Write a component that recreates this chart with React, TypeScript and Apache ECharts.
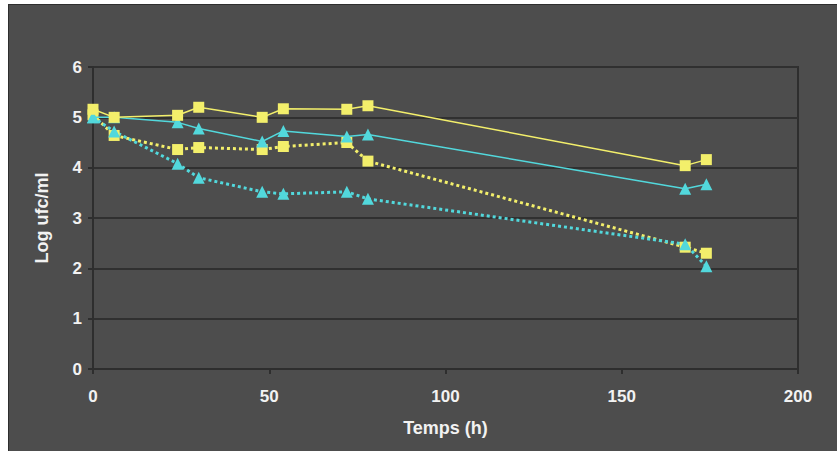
import React, { useEffect, useRef } from "react";
import * as echarts from "echarts";

const times = [0, 6, 24, 30, 48, 54, 72, 78, 168, 174];
const yellowSolid = [5.16, 5.0, 5.04, 5.2, 5.0, 5.17, 5.16, 5.23, 4.04, 4.16];
const cyanSolid = [5.0, 5.0, 4.9, 4.78, 4.52, 4.73, 4.62, 4.66, 3.58, 3.67];
const yellowDotted = [5.05, 4.64, 4.36, 4.4, 4.36, 4.42, 4.5, 4.13, 2.42, 2.3];
const cyanDotted = [5.0, 4.72, 4.08, 3.8, 3.52, 3.48, 3.52, 3.38, 2.48, 2.04];

const xTicks = [0, 50, 100, 150, 200];
const yTicks = [0, 1, 2, 3, 4, 5, 6];

const YELLOW = "#F3EF6B";
const CYAN = "#52D8DC";

function pairs(vals: number[]) {
  return times.map((t, i) => [t, vals[i]]);
}

export default function App() {
  const ref = useRef<HTMLDivElement>(null);
  useEffect(() => {
    if (!ref.current) return;
    const chart = echarts.init(ref.current, undefined, { renderer: "svg" });
    const labelStyle = {
      color: "#F2F2F2",
      fontFamily: "'Liberation Sans Narrow', 'Liberation Sans', Arial, sans-serif",
      fontWeight: "bold" as const,
      fontSize: 17,
    };
    const mk = (name: string, vals: number[], color: string, dotted: boolean, symbol: string) => ({
      name,
      type: "line",
      data: pairs(vals),
      symbol,
      symbolSize: symbol === "rect" ? 11 : 12,
      lineStyle: { color, width: dotted ? 3 : 1.5, type: dotted ? "dotted" : "solid" },
      itemStyle: { color },
      z: dotted ? 2 : 3,
    });
    chart.setOption({
      animation: false,
      backgroundColor: "#4D4D4D",
      grid: { left: 84, top: 62, right: 39, bottom: 82, show: true, borderColor: "#2E2E2E", borderWidth: 2 },
      xAxis: {
        type: "value",
        min: xTicks[0],
        max: xTicks[xTicks.length - 1],
        interval: 50,
        name: "Temps (h)",
        nameLocation: "middle",
        nameGap: 50,
        nameTextStyle: { ...labelStyle, fontSize: 18 },
        axisLine: { show: true, lineStyle: { color: "#2E2E2E", width: 2 } },
        axisTick: { show: true, length: 5, lineStyle: { color: "#2E2E2E", width: 2 } },
        axisLabel: { ...labelStyle, margin: 19 },
        splitLine: { show: false },
      },
      yAxis: {
        type: "value",
        min: yTicks[0],
        max: yTicks[yTicks.length - 1],
        interval: 1,
        name: "Log ufc/ml",
        nameLocation: "middle",
        nameGap: 42,
        nameTextStyle: { ...labelStyle, fontSize: 18 },
        axisLine: { show: true, lineStyle: { color: "#2E2E2E", width: 2 } },
        axisTick: { show: true, length: 5, lineStyle: { color: "#2E2E2E", width: 2 } },
        axisLabel: { ...labelStyle, margin: 11 },
        splitLine: { show: true, lineStyle: { color: "#303030", width: 2 } },
      },
      series: [
        mk("Jaune pointillé", yellowDotted, YELLOW, true, "rect"),
        mk("Cyan pointillé", cyanDotted, CYAN, true, "triangle"),
        mk("Cyan", cyanSolid, CYAN, false, "triangle"),
        mk("Jaune", yellowSolid, YELLOW, false, "rect"),
      ],
    });
    return () => chart.dispose();
  }, []);
  return (
    <div style={{ position: "fixed", left: 0, top: 0, width: 837, height: 451, background: "#fff" }}>
      <div
        style={{
          position: "absolute",
          left: 8,
          top: 4,
          width: 829,
          height: 447,
          borderLeft: "1px solid #2E2E2E",
          borderTop: "1px solid #2E2E2E",
        }}
      >
        <div ref={ref} style={{ width: 828, height: 446 }} />
      </div>
    </div>
  );
}
